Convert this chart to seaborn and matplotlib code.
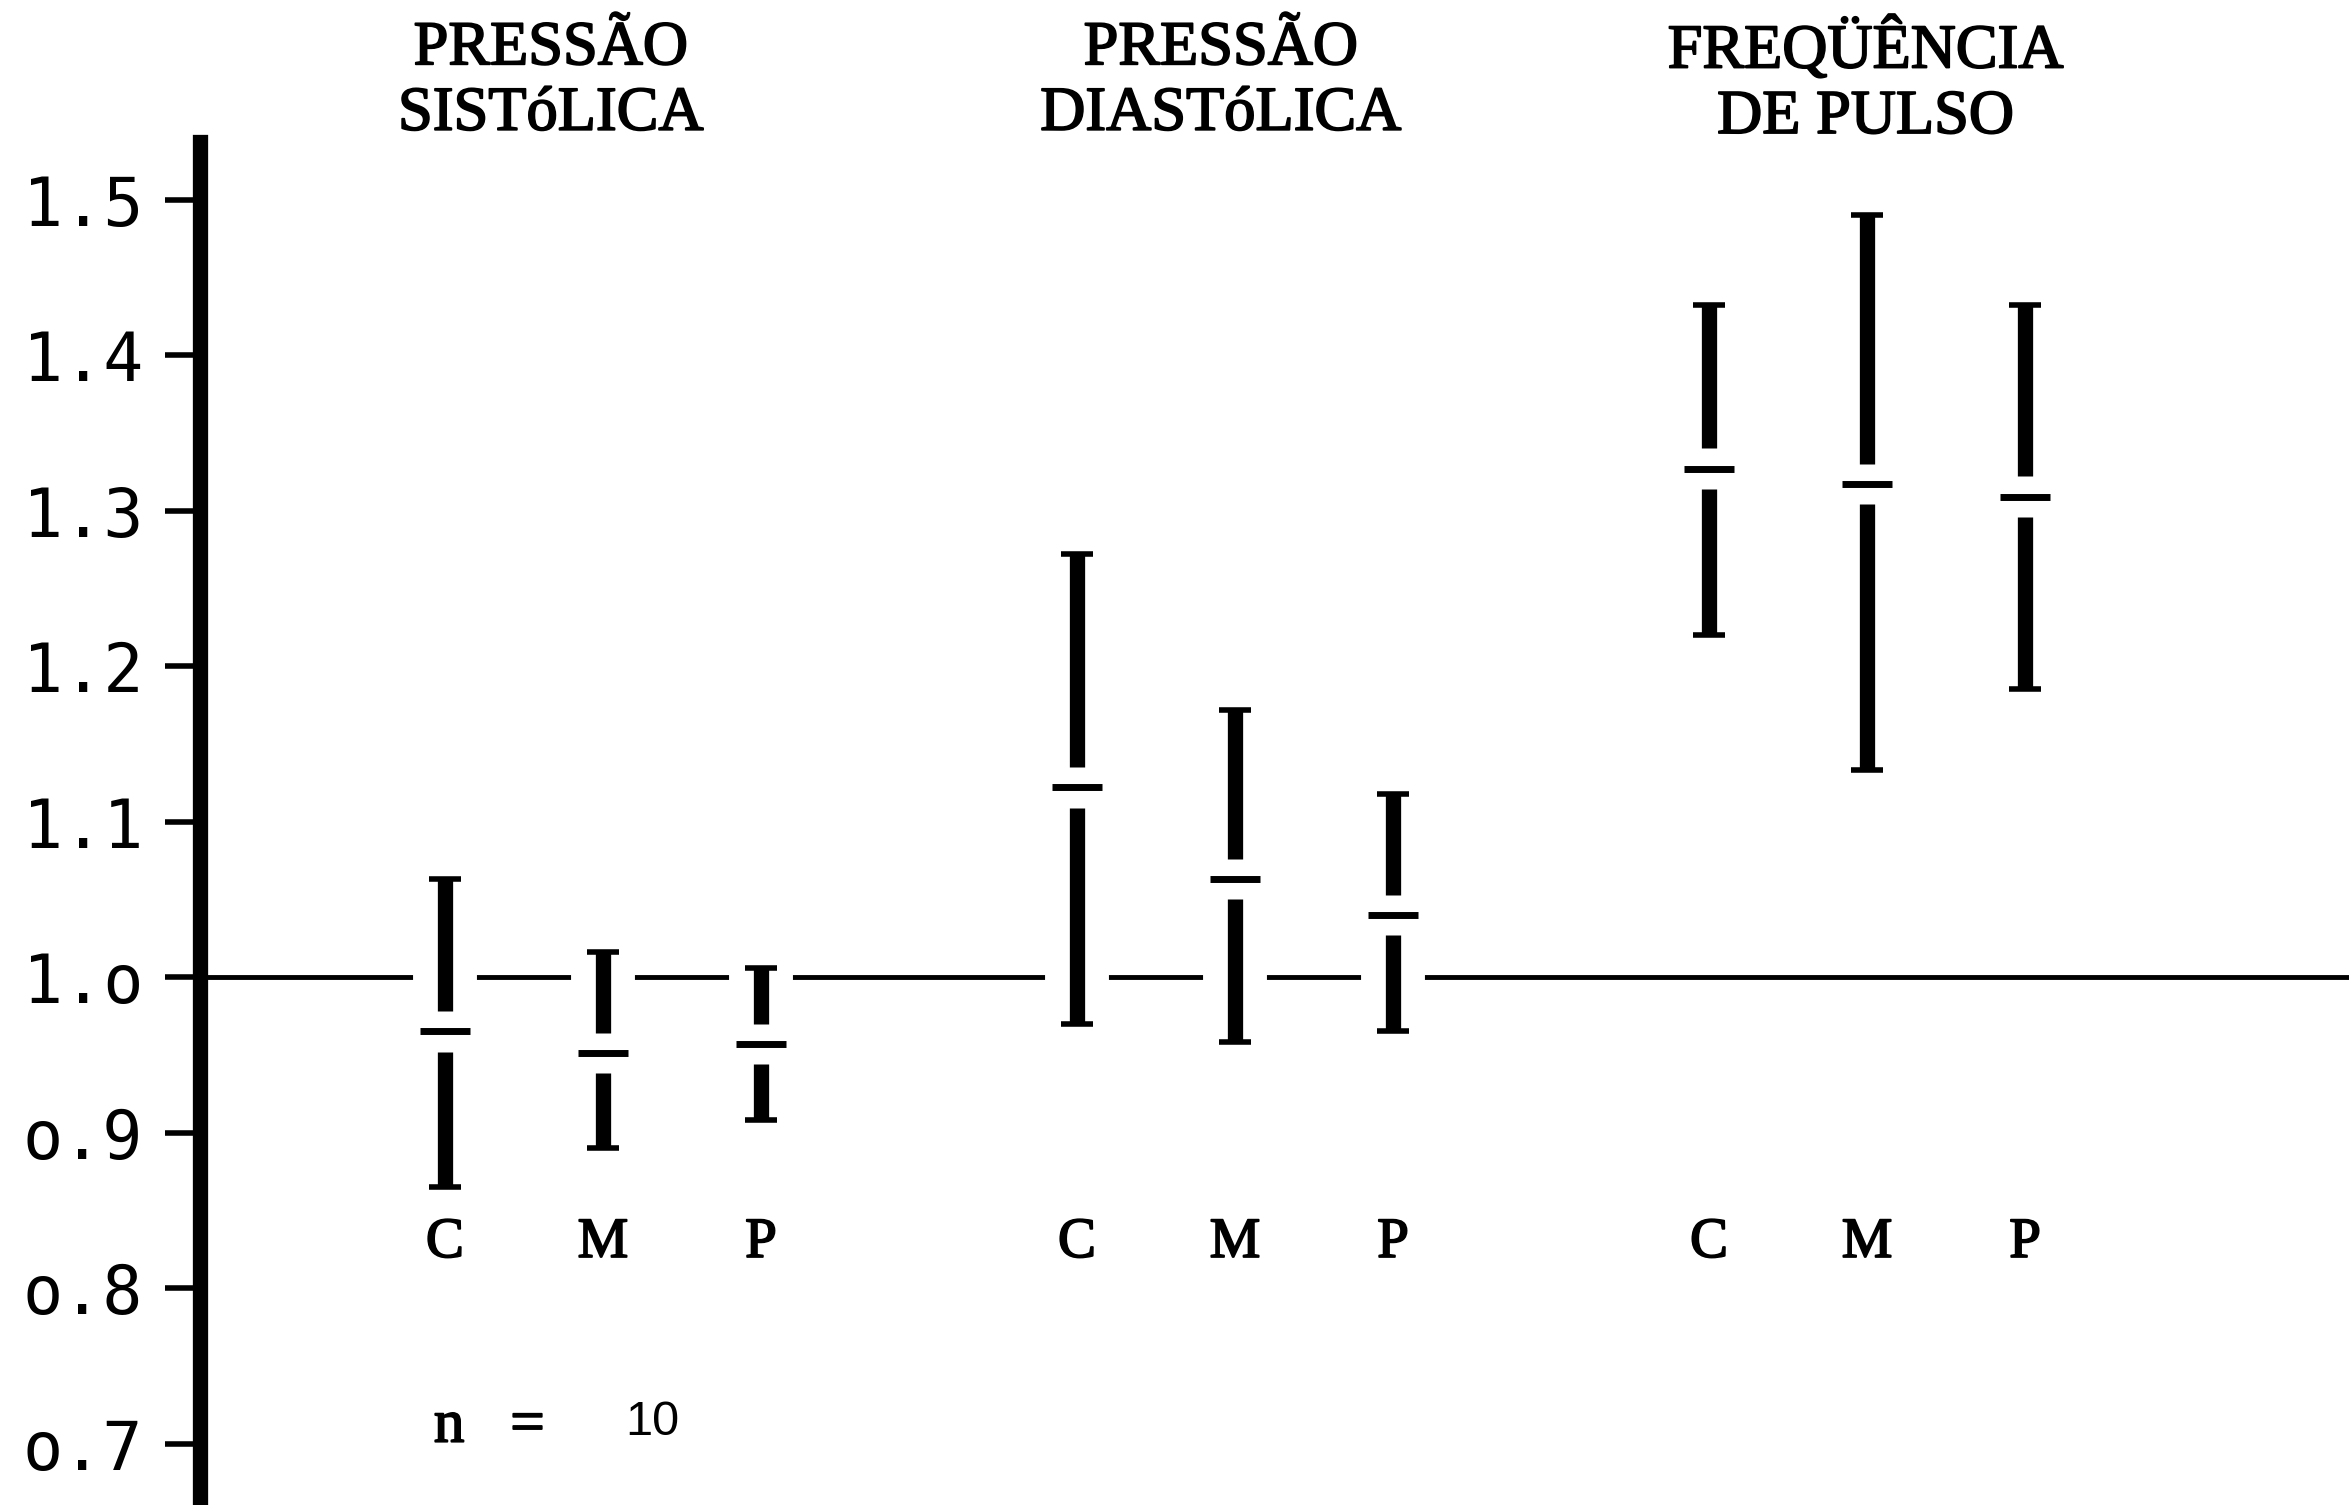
#%%
# Pressão e pulso: razão (C, M, P), média e intervalo

import pandas as pd
import numpy as np
import matplotlib.pyplot as plt
import matplotlib.patheffects as pe
from matplotlib.transforms import blended_transform_factory
import seaborn as sns

# %%
# Dados

groups = ['PRESSÃO\nSISTóLICA', 'PRESSÃO\nDIASTóLICA', 'FREQÜÊNCIA\nDE PULSO']
conditions = ['C', 'M', 'P']

# ordem C, M, P
sist_low = [0.865, 0.890, 0.908]
sist_mean = [0.965, 0.951, 0.957]
sist_high = [1.063, 1.016, 1.006]

diast_low = [0.970, 0.958, 0.965]
diast_mean = [1.122, 1.063, 1.040]
diast_high = [1.272, 1.172, 1.118]

pulso_low = [1.220, 1.133, 1.185]
pulso_mean = [1.327, 1.317, 1.309]
pulso_high = [1.432, 1.490, 1.432]

y_ticks = [0.7, 0.8, 0.9, 1.0, 1.1, 1.2, 1.3, 1.4, 1.5]
y_ticklabels = ['o.7', 'o.8', 'o.9', '1.o', '1.1', '1.2', '1.3', '1.4', '1.5']
n_text = 'n   ='
n_value = '10'

#%%
# Tabela

rows = []
for g, (lo, me, hi) in enumerate([(sist_low, sist_mean, sist_high),
                                  (diast_low, diast_mean, diast_high),
                                  (pulso_low, pulso_mean, pulso_high)]):
    for k, cond in enumerate(conditions):
        rows.append({'group': g, 'cond': cond, 'pos': 4 * g + k,
                     'low': lo[k], 'mean': me[k], 'high': hi[k]})
df = pd.DataFrame(rows)

#%%
# Figura

sns.set_style('white')
plt.rcParams['font.family'] = ['Liberation Serif', 'DejaVu Serif']
plt.rcParams['text.color'] = 'black'
plt.rcParams['ytick.color'] = 'black'
plt.rcParams['ytick.labelcolor'] = 'black'

fig = plt.figure(figsize=(23.49, 15.05), dpi=100)
ax = fig.add_axes([200 / 2349, 0, 1 - 200 / 2349, (1505 - 142) / 1505])
ax.set_xlim(-1.55, 12.05)
ax.set_ylim(0.6605, 1.537)

gap = 0.013    # espaço entre barra e média
cap = 0.10     # meia largura das serifas
heavy = [pe.withStroke(linewidth=1.3, foreground='black')]  # tinta de máquina

# linha de referência 1.0, interrompida nas barras
ax.axhline(1.0, color='black', lw=3.5, zorder=1)
ax.vlines(df['pos'], df['low'], df['high'], color='white', lw=46, zorder=2)

# barras
ax.vlines(df['pos'], df['mean'] + gap, df['high'], color='black', lw=11, zorder=3)
ax.vlines(df['pos'], df['low'], df['mean'] - gap, color='black', lw=11, zorder=3)
ax.hlines(df['high'], df['pos'] - cap, df['pos'] + cap, color='black', lw=4, zorder=3)
ax.hlines(df['low'], df['pos'] - cap, df['pos'] + cap, color='black', lw=4, zorder=3)

# médias
sns.scatterplot(data=df, x='pos', y='mean', marker='_', s=1250, linewidth=5,
                color='black', ax=ax, zorder=4, legend=False)

# eixo y
for side in ['top', 'right', 'bottom']:
    ax.spines[side].set_visible(False)
ax.spines['left'].set_linewidth(11)
ax.spines['left'].set_color('black')
ax.set_xticks([])
ax.set_yticks(y_ticks)
ax.set_yticklabels(y_ticklabels, family='DejaVu Sans Mono')
ax.tick_params(axis='y', left=True, length=25, width=4, pad=16, labelsize=48,
               direction='out', color='black', labelcolor='black')
ax.set_xlabel('')
ax.set_ylabel('')

# C M P
for _, r in df.iterrows():
    ax.text(r['pos'], 0.829, r['cond'], ha='center', va='center', fontsize=41,
            path_effects=heavy)

# títulos
title_x = [0.67, 4.91, 8.99]
blend = blended_transform_factory(ax.transData, fig.transFigure)
for g, t in enumerate(groups):
    ax.text(title_x[g], 0.9455, t, transform=blend, ha='center', va='center',
            fontsize=45, linespacing=1.17, path_effects=heavy)

# n = 10
ax.text(-0.07, 0.7107, n_text, ha='left', va='center', fontsize=44,
        path_effects=heavy)
ax.text(1.14, 0.7135, n_value, ha='left', va='center', fontsize=35,
        family='Liberation Sans')

fig.savefig('out.png', dpi=100)
